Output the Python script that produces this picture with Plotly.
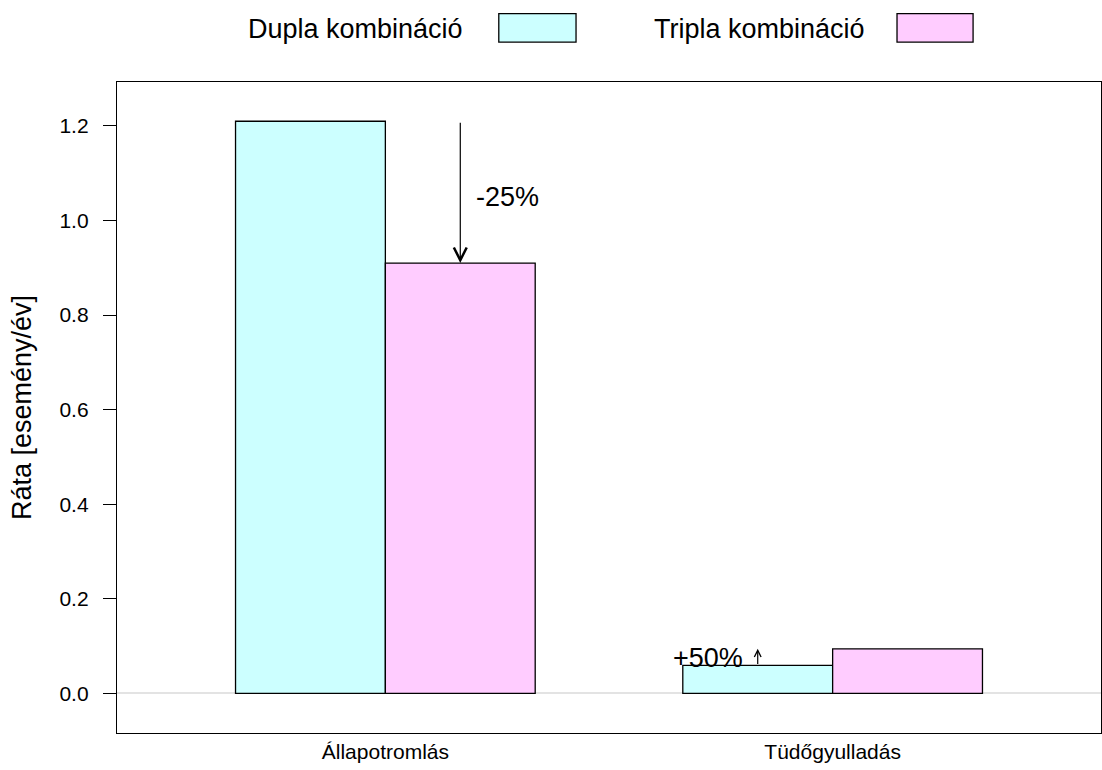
import plotly.graph_objects as go

categories = ["Állapotromlás", "Tüdőgyulladás"]
dupla = [1.21, 0.059]
tripla = [0.91, 0.094]
series_names = ["Dupla kombináció", "Tripla kombináció"]
change_labels = ["-25%", "+50%"]
y_ticks = [0.0, 0.2, 0.4, 0.6, 0.8, 1.0, 1.2]

cyan = "#CCFFFF"
pink = "#FFCCFF"
font = "Liberation Sans, Arial, sans-serif"
bargap = 0.33
off = (1 - bargap) / 4  # centre of each bar relative to category centre

fig = go.Figure()
fig.add_trace(go.Bar(x=categories, y=dupla, name=series_names[0],
                     marker=dict(color=cyan, line=dict(color="black", width=1.3))))
fig.add_trace(go.Bar(x=categories, y=tripla, name=series_names[1],
                     marker=dict(color=pink, line=dict(color="black", width=1.3))))

# arrows showing the change between the two combinations
# Állapotromlás: arrow down over the tripla bar
fig.add_annotation(x=0 + off, y=tripla[0], ax=0 + off, ay=dupla[0],
                   xref="x", yref="y", axref="x", ayref="y", text="",
                   showarrow=True, arrowhead=5, arrowsize=2.1, arrowwidth=1.2,
                   arrowcolor="black", standoff=0, startstandoff=0)
fig.add_annotation(x=0 + off + 0.105, y=(dupla[0] + tripla[0]) / 2 - 0.01,
                   xref="x", yref="y", text=change_labels[0], showarrow=False,
                   font=dict(family=font, size=27, color="black"))
# Tüdőgyulladás: small arrow up over the dupla bar
fig.add_annotation(x=1 - off, y=tripla[1], ax=1 - off, ay=dupla[1],
                   xref="x", yref="y", axref="x", ayref="y", text="",
                   showarrow=True, arrowhead=5, arrowsize=1.1, arrowwidth=1.2,
                   arrowcolor="black", standoff=0, startstandoff=0)
fig.add_annotation(x=1 - off - 0.112, y=(dupla[1] + tripla[1]) / 2 - 0.002,
                   xref="x", yref="y", text=change_labels[1], showarrow=False,
                   font=dict(family=font, size=27, color="black"))

# legend drawn by hand: text first, box to the right
legend_items = [(series_names[0], cyan, 0.354, 0.388, 0.4665),
                (series_names[1], pink, 0.762, 0.7927, 0.870)]
for name, col, tx, bx0, bx1 in legend_items:
    fig.add_annotation(x=tx, y=1.081, xref="paper", yref="paper", text=name,
                       showarrow=False, xanchor="right", yanchor="middle",
                       font=dict(family=font, size=27, color="black"))
    fig.add_shape(type="rect", xref="paper", yref="paper",
                  x0=bx0, x1=bx1, y0=1.0614, y1=1.105,
                  fillcolor=col, line=dict(color="black", width=1.3))

fig.update_layout(
    width=1102, height=770,
    barmode="group", bargap=bargap, bargroupgap=0,
    showlegend=False,
    plot_bgcolor="white", paper_bgcolor="white",
    margin=dict(l=117, r=1, t=82, b=37, autoexpand=False),
    font=dict(family=font, color="black"),
    xaxis=dict(range=[-0.6, 1.6], showline=True, linecolor="black", linewidth=1.3,
               mirror=True, ticks="", showgrid=False, automargin=False,
               tickfont=dict(size=21, color="black"), ticklabelstandoff=0),
    yaxis=dict(range=[-0.084, 1.293], tickvals=y_ticks, tickformat=".1f",
               showline=True, linecolor="black", linewidth=1.3, mirror=True,
               ticks="outside", ticklen=13, tickwidth=1.3, tickcolor="black",
               showgrid=False, zeroline=True, zerolinecolor="#e3e3e3", zerolinewidth=1.5,
               automargin=False,
               tickfont=dict(size=21, color="black"), ticklabelstandoff=10,
               title=dict(text="Ráta [esemény/év]", standoff=19,
                          font=dict(size=27, color="black"))),
)

fig.write_html("out.html", config={"displayModeBar": False},
               post_script="document.body.style.margin='0px';document.body.style.overflow='hidden';")
